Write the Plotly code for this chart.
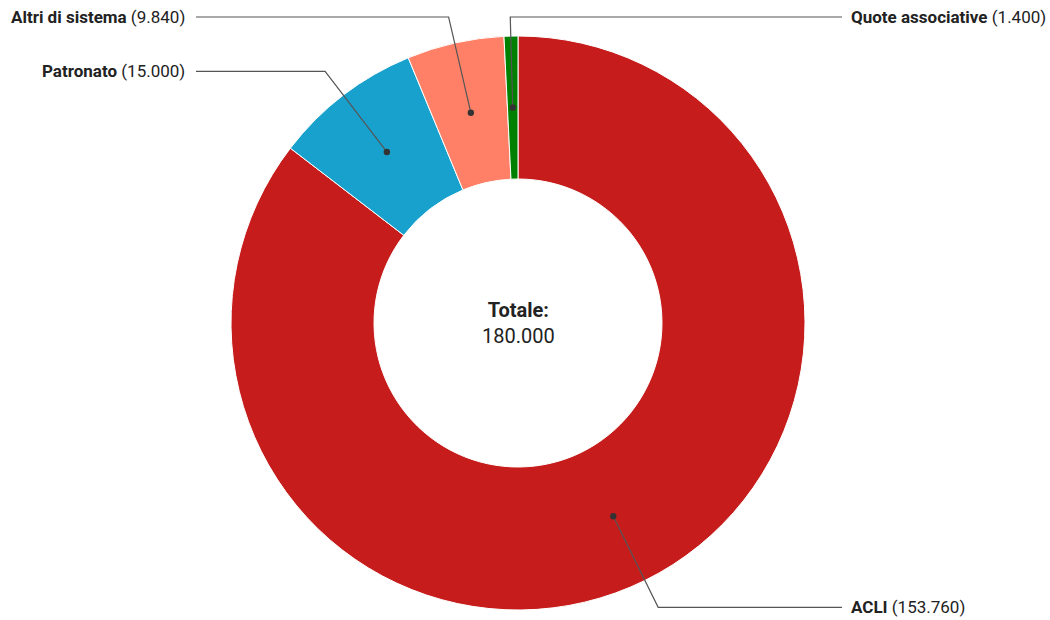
import math
import plotly.graph_objects as go

labels = ["ACLI", "Patronato", "Altri di sistema", "Quote associative"]
values = [153760, 15000, 9840, 1400]
colors = ["#c71c1c", "#18a1cd", "#ff8066", "#008000"]
value_text = ["153.760", "15.000", "9.840", "1.400"]
total_label = "Totale:"
total_text = "180.000"

W, H = 1050, 620
CX, CY = 518, 323
R_OUT = 287
R_IN = 144
R_DOT = (R_OUT + R_IN) / 2
R_ELBOW = 317
TOP_LIMIT = 17
LEFT_LINE_X = 196
LEFT_TEXT_X = 187
RIGHT_LINE_X = 842
RIGHT_TEXT_X = 849

fig = go.Figure()
fig.add_trace(go.Pie(
    labels=labels, values=values, hole=R_IN / R_OUT,
    sort=False, direction="clockwise", rotation=0,
    marker=dict(colors=colors, line=dict(color="white", width=1)),
    textinfo="none", hoverinfo="label+value", showlegend=False,
    domain=dict(x=[(CX - R_OUT) / W, (CX + R_OUT) / W],
                y=[1 - (CY + R_OUT) / H, 1 - (CY - R_OUT) / H]),
))

total = sum(values)
cum = 0
annotations = []
shapes = []
for lab, v, vt in zip(labels, values, value_text):
    mid = (cum + v / 2) / total * 2 * math.pi
    cum += v
    sx, sy = math.sin(mid), -math.cos(mid)
    dx, dy = CX + R_DOT * sx, CY + R_DOT * sy
    ex, ey = CX + R_ELBOW * sx, CY + R_ELBOW * sy
    ey = max(ey, TOP_LIMIT)
    if sx >= 0 or abs(sx) < 0.05:
        lx, tx, anchor = RIGHT_LINE_X, RIGHT_TEXT_X, "left"
    else:
        lx, tx, anchor = LEFT_LINE_X, LEFT_TEXT_X, "right"
    shapes.append(dict(
        type="path", xref="x", yref="y", layer="above",
        path=f"M {dx:.2f} {dy:.2f} L {ex:.2f} {ey:.2f} L {lx:.2f} {ey:.2f}",
        line=dict(color="#555555", width=1.2)))
    shapes.append(dict(
        type="circle", xref="x", yref="y", layer="above",
        x0=dx - 3.2, x1=dx + 3.2, y0=dy - 3.2, y1=dy + 3.2,
        fillcolor="#333333", line=dict(width=0)))
    annotations.append(dict(
        x=tx, y=ey, xref="x", yref="y", xanchor=anchor, yanchor="middle",
        text=f"<b>{lab}</b> ({vt})", showarrow=False,
        font=dict(family="Roboto", size=17, color="#222222")))

annotations.append(dict(
    x=CX, y=CY, xref="x", yref="y", xanchor="center", yanchor="middle",
    text=f"<b>{total_label}</b><br>{total_text}", showarrow=False,
    font=dict(family="Roboto", size=20, color="#222222")))

fig.update_layout(
    width=W, height=H, margin=dict(l=0, r=0, t=0, b=0),
    paper_bgcolor="white", plot_bgcolor="rgba(0,0,0,0)",
    xaxis=dict(range=[0, W], visible=False, fixedrange=True),
    yaxis=dict(range=[H, 0], visible=False, fixedrange=True),
    annotations=annotations, shapes=shapes,
    font=dict(family="Roboto"),
)
fig.write_html("out.html")
